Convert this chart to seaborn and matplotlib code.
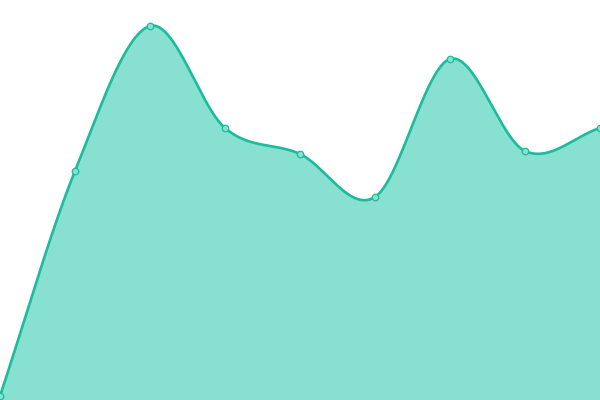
import numpy as np
import pandas as pd
import matplotlib
matplotlib.use("Agg")
import matplotlib.pyplot as plt
import seaborn as sns

categories = list(range(9))
values = [4, 229, 374, 272, 246, 203, 341, 249, 272]

LINE = "#1abc9c"
FILL = "#88e0d0"

def catmull_rom(xs, ys, n=60):
    xs = np.asarray(xs, float); ys = np.asarray(ys, float)
    px = np.concatenate([[2*xs[0]-xs[1]], xs, [2*xs[-1]-xs[-2]]])
    py = np.concatenate([[2*ys[0]-ys[1]], ys, [2*ys[-1]-ys[-2]]])
    ox, oy = [], []
    for i in range(1, len(px)-2):
        t = np.linspace(0, 1, n, endpoint=False)
        for p, o in ((px, ox), (py, oy)):
            p0, p1, p2, p3 = p[i-1], p[i], p[i+1], p[i+2]
            o.extend(0.5*((2*p1) + (-p0+p2)*t + (2*p0-5*p1+4*p2-p3)*t**2 + (-p0+3*p1-3*p2+p3)*t**3))
    ox.append(xs[-1]); oy.append(ys[-1])
    return np.array(ox), np.array(oy)

sns.set_theme(style="white")
fig = plt.figure(figsize=(6, 4), dpi=100)
ax = fig.add_axes([0, 0, 1, 1])

cx, cy = catmull_rom(categories, values)
smooth = pd.DataFrame({"x": cx, "y": cy})
pts = pd.DataFrame({"x": categories, "y": values})

ax.fill_between(cx, 0, cy, color=FILL, linewidth=0, zorder=1)
sns.lineplot(data=smooth, x="x", y="y", ax=ax, color=LINE, linewidth=1.9, sort=False, zorder=2)
sns.scatterplot(data=pts, x="x", y="y", ax=ax, s=22, color=FILL, edgecolor=LINE, linewidth=0.9, zorder=3)

ax.set_xlim(0, 8)
ax.set_ylim(0, 400)
ax.set_axis_off()
fig.savefig("out.png", dpi=100)
